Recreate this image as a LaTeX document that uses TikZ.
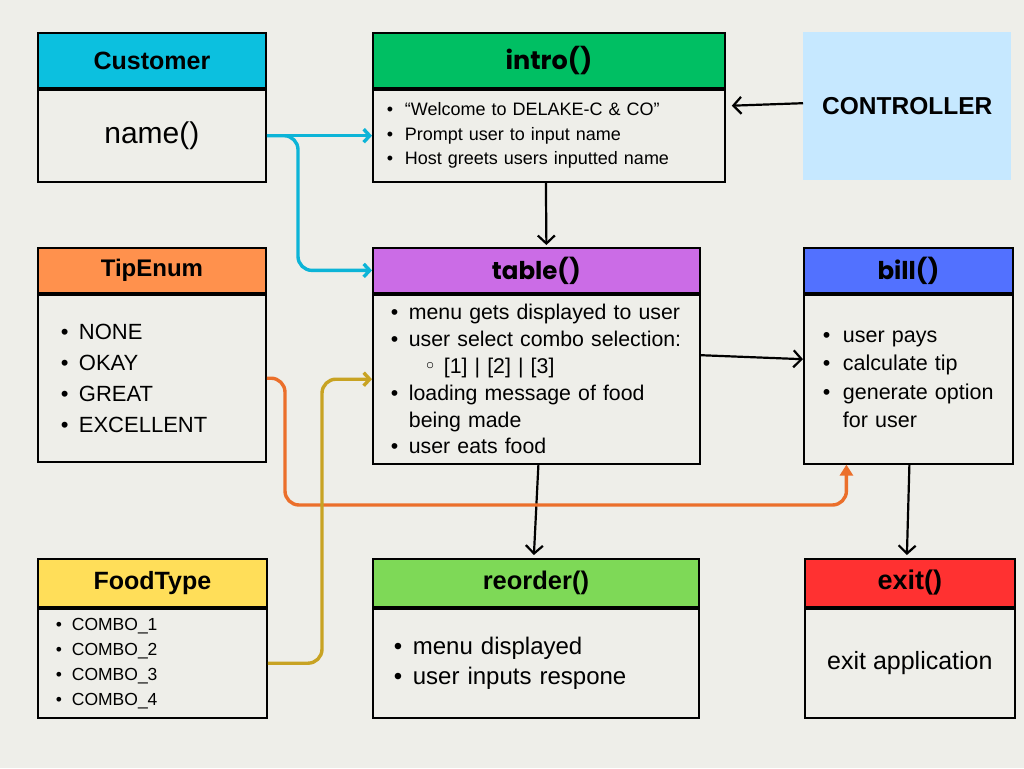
\documentclass[tikz,border=0pt]{standalone}
\usepackage{fontspec}
\setmainfont{Liberation Sans}
\newfontfamily\headfont{Poppins}
\newfontfamily\symfont{DejaVu Sans}
\usetikzlibrary{arrows.meta}

\definecolor{paper}{RGB}{238,238,233}
\definecolor{custcol}{HTML}{0CC0DF}
\definecolor{introcol}{HTML}{00BF63}
\definecolor{ctrlcol}{HTML}{C6E8FF}
\definecolor{tipcol}{HTML}{FF914D}
\definecolor{tablecol}{HTML}{CB6CE6}
\definecolor{billcol}{HTML}{5271FF}
\definecolor{foodcol}{HTML}{FFDE59}
\definecolor{reordercol}{HTML}{7ED957}
\definecolor{exitcol}{HTML}{FF3131}
\definecolor{cyanln}{HTML}{0CB4D7}
\definecolor{orangeln}{HTML}{EB6F2B}
\definecolor{yellowln}{HTML}{C8A323}

\newcommand{\setfs}[2]{\fontsize{#1}{#2}\selectfont}
\newcommand{\bul}[1]{\makebox[#1][l]{\textbullet}}

\begin{document}
\begin{tikzpicture}[x=1pt,y=-1pt,
    hdr/.style={draw=black, line width=1.8pt, anchor=north west, inner sep=0pt, font=\bfseries\setfs{24}{28}},
    mhdr/.style={hdr, font=\headfont\bfseries\setfs{24.5}{28}},
    bodybox/.style={draw=black, line width=1.8pt, anchor=north west, fill=paper},
    flow/.style={-{Straight Barb[length=8pt,width=17pt]}, line width=2.2pt, black},
    cyanarrow/.style={-{Straight Barb[length=6pt,width=13pt]}, line width=3.4pt, cyanln},
    tiparrow/.style={-{Triangle[length=11pt,width=13pt]}, line width=3.4pt, orangeln},
    foodarrow/.style={-{Straight Barb[length=6pt,width=13pt]}, line width=3.4pt, yellowln}]
    \useasboundingbox (0,0) rectangle (1024,768);
    \fill[paper] (0,0) rectangle (1024,768);

    % top row
    \node[hdr, fill=custcol, minimum width=228pt, minimum height=55pt, font=\bfseries\setfs{25}{28}] (custh) at (37,32) {Customer};
    \node[bodybox, minimum width=228pt, minimum height=92pt, font=\setfs{30}{34}] (custb) at (custh.south west) {name()};

    \node[mhdr, fill=introcol, minimum width=352pt, minimum height=55pt, font=\headfont\bfseries\setfs{25.5}{28}] (introh) at (372,32) {intro()};
    \node[bodybox, minimum width=352pt, minimum height=92pt, text width=324pt, inner xsep=14pt, align=left, font=\setfs{18}{24.5}] (introb) at (introh.south west)
        {\bul{18pt}“Welcome to DELAKE-C \& CO”\\
         \bul{18pt}Prompt user to input name\\
         \bul{18pt}Host greets users inputted name};

    \node[fill=ctrlcol, anchor=north west, minimum width=208pt, minimum height=148pt, font=\bfseries\setfs{24.5}{28}] (ctrl) at (803,32) {CONTROLLER};

    % middle row
    \node[hdr, fill=tipcol, minimum width=228pt, minimum height=45pt] (tiph) at (37,247) {TipEnum};
    \node[bodybox, minimum width=228pt, minimum height=167pt, text width=182pt, inner xsep=23pt, align=left, font=\setfs{22}{31}] (tipb) at (tiph.south west)
        {\bul{18pt}NONE\\
         \bul{18pt}OKAY\\
         \bul{18pt}GREAT\\
         \bul{18pt}EXCELLENT};

    \node[mhdr, fill=tablecol, minimum width=327pt, minimum height=45pt] (tableh) at (372,247) {table()};
    \node[bodybox, minimum width=327pt, minimum height=169pt, text width=291pt, inner xsep=18pt, align=left, font=\setfs{21.3}{26.8}] (tableb) at (tableh.south west)
        {\bul{18pt}menu gets displayed to user\\
         \bul{18pt}user select combo selection:\\
         \hspace*{33pt}\makebox[20pt][l]{\symfont ◦}[1] | [2] | [3]\\
         \bul{18pt}loading message of food\\
         \hspace*{18pt}being made\\
         \bul{18pt}user eats food};

    \node[mhdr, fill=billcol, minimum width=209pt, minimum height=45pt] (billh) at (803,247) {bill()};
    \node[bodybox, minimum width=209pt, minimum height=169pt, text width=171pt, inner xsep=19pt, align=left, font=\setfs{21.5}{28.3}] (billb) at (billh.south west)
        {\bul{20pt}user pays\\
         \bul{20pt}calculate tip\\
         \bul{20pt}generate~option\\
         \hspace*{20pt}for user};

    % bottom row
    \node[hdr, fill=foodcol, minimum width=229pt, minimum height=48pt, font=\bfseries\setfs{25}{28}] (foodh) at (37,558) {FoodType};
    \node[bodybox, minimum width=229pt, minimum height=109pt, text width=193pt, inner xsep=18pt, align=left, font=\setfs{17.5}{25}] (foodb) at (foodh.south west)
        {\bul{16pt}COMBO\_1\\
         \bul{16pt}COMBO\_2\\
         \bul{16pt}COMBO\_3\\
         \bul{16pt}COMBO\_4};

    \node[hdr, fill=reordercol, minimum width=326pt, minimum height=48pt, font=\bfseries\setfs{25.5}{28}] (reorderh) at (372,558) {reorder()};
    \node[bodybox, minimum width=326pt, minimum height=109pt, text width=284pt, inner xsep=21pt, align=left, font=\setfs{24}{30.5}] (reorderb) at (reorderh.south west)
        {\bul{19pt}menu displayed\\
         \bul{19pt}user inputs respone};

    \node[hdr, fill=exitcol, minimum width=210pt, minimum height=48pt, font=\bfseries\setfs{27}{30}] (exith) at (804,558) {exit()};
    \node[bodybox, minimum width=210pt, minimum height=109pt, font=\setfs{25}{30}] (exitb) at (exith.south west) {exit application};

    % connectors
    \draw[cyanarrow] (custb.east) -- (introb.west);
    \draw[cyanarrow, rounded corners=14pt] (custb.east) -| ([xshift=-74pt]tableh.west) -- (tableh.west);
    \draw[flow] ([yshift=3pt]ctrl.west) -- ([xshift=6pt,yshift=30pt]introb.east);
    \draw[flow] ([xshift=-3pt]introb.south) -- ([xshift=10pt,yshift=2pt]tableh.north);
    \draw[flow] ([yshift=24pt]tableb.east) -- ([yshift=20pt]billb.west);
    \draw[flow] ([xshift=2pt]tableb.south) -- ([xshift=-2pt,yshift=3pt]reorderh.north);
    \draw[flow] ([xshift=1pt]billb.south) -- ([xshift=-3pt,yshift=3pt]exith.north);

    \coordinate (tipturn) at (285,505);
    \draw[tiparrow, rounded corners=14pt] (tipb.east) -| (tipturn) -| ([xshift=-62pt]billb.south);
    \draw[foodarrow, rounded corners=14pt] (foodb.east) -| ([xshift=-50pt]tableb.west) -- (tableb.west);
\end{tikzpicture}
\end{document}
